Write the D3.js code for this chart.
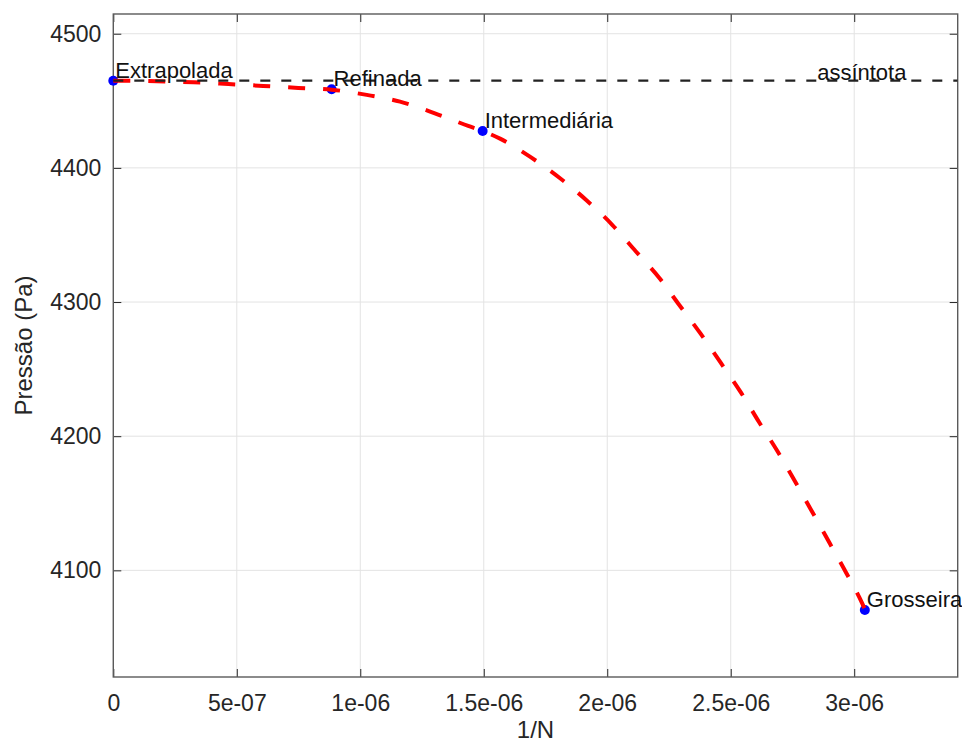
<!DOCTYPE html>
<html>
<head>
<meta charset="utf-8">
<script src="https://cdn.jsdelivr.net/npm/d3@7"></script>
<style>
  html, body { margin: 0; padding: 0; background: #fff; }
  svg { display: block; font-family: "Liberation Sans", Arial, Helvetica, sans-serif; }
</style>
</head>
<body>
<svg id="chart" width="962" height="744"></svg>
<script>
// ---- data ----
const pointNames = ["Extrapolada", "Refinada", "Intermediária", "Grosseira"];
const pointX = [0, 0.884e-6, 1.4955e-6, 3.043e-6];
const pointY = [4465.0, 4458.6, 4427.5, 4070.4];

const curveX = [0, 0.324e-6, 0.466e-6, 0.607e-6, 0.749e-6, 0.884e-6, 1.026e-6, 1.161e-6, 1.302e-6,
  1.437e-6, 1.4955e-6, 1.568e-6, 1.690e-6, 1.809e-6, 1.917e-6, 2.020e-6, 2.116e-6, 2.211e-6,
  2.294e-6, 2.378e-6, 2.460e-6, 2.541e-6, 2.615e-6, 2.690e-6, 2.760e-6, 2.832e-6, 2.902e-6,
  2.969e-6, 3.030e-6, 3.043e-6];
const curveY = [4465.0, 4463.8, 4462.5, 4461.1, 4459.6, 4458.3, 4454.4, 4449.4, 4440.7,
  4431.3, 4427.5, 4421.6, 4408.0, 4392.3, 4375.7, 4357.6, 4337.7, 4317.9,
  4297.2, 4276.4, 4254.6, 4232.7, 4210.4, 4188.6, 4166.4, 4142.9, 4119.8,
  4097.7, 4076.3, 4071.0];

const asymptoteValue = 4465.0;
const asymptoteLabel = "assíntota";
const asymptoteLabelX = 2.85e-6;

const xTickValues = [0, 0.5e-6, 1e-6, 1.5e-6, 2e-6, 2.5e-6, 3e-6];
const xTickLabels = ["0", "5e-07", "1e-06", "1.5e-06", "2e-06", "2.5e-06", "3e-06"];
const yTickValues = [4100, 4200, 4300, 4400, 4500];
const yTickLabels = ["4100", "4200", "4300", "4400", "4500"];
const xDomain = [0, 3.419e-6];
const yDomain = [4020.5, 4514.7];
const xLabel = "1/N";
const yLabel = "Pressão (Pa)";

(function () {
  const svg = d3.select("#chart");
  const pl = 113.3, pr = 957.7, pt = 14, pb = 677;
  const axisColor = "#262626";

  const x = d3.scaleLinear().domain(xDomain).range([pl, pr]);
  const y = d3.scaleLinear().domain(yDomain).range([pb, pt]);

  // grid
  const grid = svg.append("g");
  grid.selectAll("line.gx").data(xTickValues).join("line").attr("class", "gx")
    .attr("x1", d => x(d)).attr("x2", d => x(d))
    .attr("y1", pt).attr("y2", pb)
    .attr("stroke", "#e3e3e3").attr("stroke-width", 1);
  grid.selectAll("line.gy").data(yTickValues).join("line").attr("class", "gy")
    .attr("x1", pl).attr("x2", pr)
    .attr("y1", d => y(d)).attr("y2", d => y(d))
    .attr("stroke", "#e3e3e3").attr("stroke-width", 1);

  function styleAxis(g, showText) {
    g.select(".domain").remove();
    g.selectAll(".tick line").attr("stroke", axisColor).attr("stroke-width", 1);
    g.selectAll(".tick text").attr("fill", axisColor).style("font-size", "23px")
      .style("font-family", "'Liberation Sans', Arial, Helvetica, sans-serif");
    if (!showText) g.selectAll(".tick text").remove();
  }
  const xAxis = d3.axisBottom(x).tickValues(xTickValues)
    .tickFormat((d, i) => xTickLabels[i]).tickSize(-8).tickPadding(18);
  svg.append("g").attr("transform", `translate(0,${pb})`).call(xAxis).call(g => styleAxis(g, true));
  svg.append("g").attr("transform", `translate(0,${pt})`)
    .call(d3.axisTop(x).tickValues(xTickValues).tickSize(-8)).call(g => styleAxis(g, false));

  const yAxis = d3.axisLeft(y).tickValues(yTickValues)
    .tickFormat((d, i) => yTickLabels[i]).tickSize(-8).tickPadding(12);
  svg.append("g").attr("transform", `translate(${pl},0)`).call(yAxis).call(g => styleAxis(g, true));
  svg.append("g").attr("transform", `translate(${pr},0)`)
    .call(d3.axisRight(y).tickValues(yTickValues).tickSize(-8)).call(g => styleAxis(g, false));

  // box
  svg.append("rect").attr("x", pl).attr("y", pt)
    .attr("width", pr - pl).attr("height", pb - pt)
    .attr("fill", "none").attr("stroke", "#5a5a5a").attr("stroke-width", 1.4);

  svg.append("clipPath").attr("id", "clip").append("rect")
    .attr("x", pl - 6).attr("y", pt).attr("width", pr - pl + 6).attr("height", pb - pt);

  const plot = svg.append("g").attr("clip-path", "url(#clip)");

  const pts = pointX.map((d, i) => ({ x: d, y: pointY[i], name: pointNames[i] }));
  plot.selectAll("circle").data(pts).join("circle")
    .attr("cx", d => x(d.x)).attr("cy", d => y(d.y)).attr("r", 5)
    .attr("fill", "#0000ff");

  const curveData = curveX.map((d, i) => [d, curveY[i]]);
  plot.append("path").datum(curveData)
    .attr("d", d3.line().x(d => x(d[0])).y(d => y(d[1])).curve(d3.curveMonotoneX))
    .attr("fill", "none").attr("stroke", "#ff0000").attr("stroke-width", 4)
    .attr("stroke-dasharray", "17 18");

  plot.append("line")
    .attr("x1", x(xDomain[0])).attr("x2", x(xDomain[1]))
    .attr("y1", y(asymptoteValue)).attr("y2", y(asymptoteValue))
    .attr("stroke", "#222").attr("stroke-width", 2.2).attr("stroke-dasharray", "10 11");

  svg.selectAll("text.pl").data(pts).join("text").attr("class", "pl")
    .attr("x", d => x(d.x) + 2).attr("y", d => y(d.y) - 3)
    .attr("fill", "#111").style("font-size", "22px").text(d => d.name);

  svg.append("text")
    .attr("x", x(asymptoteLabelX)).attr("y", y(asymptoteValue) - 1)
    .attr("fill", "#111").style("font-size", "22px").text(asymptoteLabel);

  svg.append("text").attr("x", (pl + pr) / 2).attr("y", 738)
    .attr("text-anchor", "middle").attr("fill", axisColor).style("font-size", "24px").text(xLabel);
  svg.append("text").attr("transform", `translate(32,${(pt + pb) / 2}) rotate(-90)`)
    .attr("text-anchor", "middle").attr("fill", axisColor).style("font-size", "24px").text(yLabel);
})();
</script>
</body>
</html>
